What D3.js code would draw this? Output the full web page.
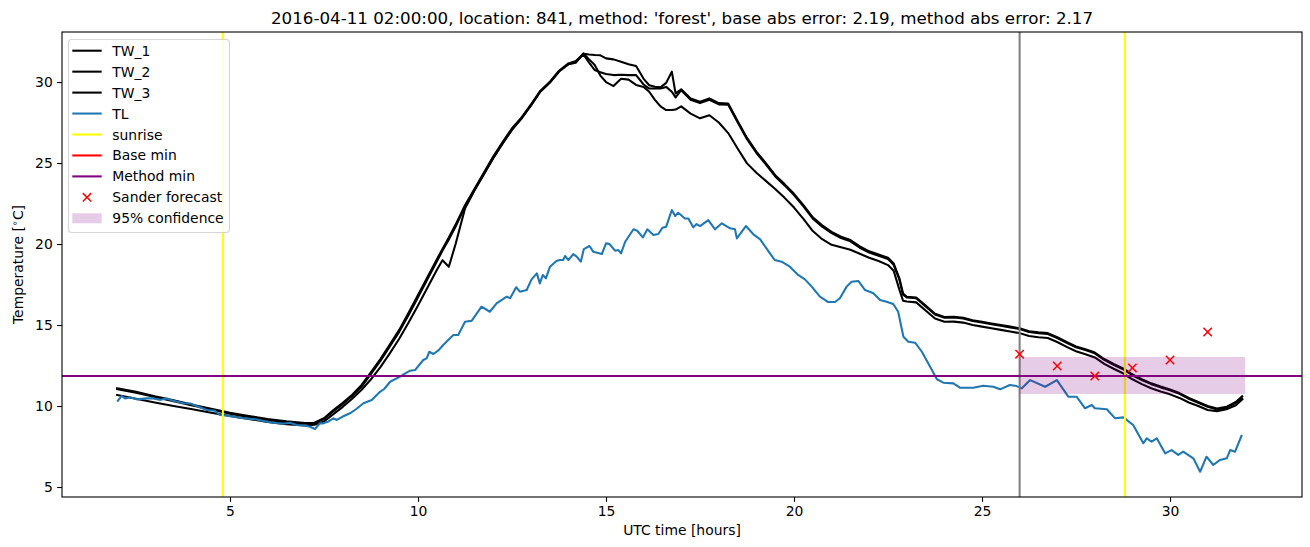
<!DOCTYPE html>
<html><head><meta charset="utf-8">
<script src="https://cdn.jsdelivr.net/npm/d3@7"></script>
<style>
body{margin:0;background:#fff}
svg{display:block}
text{font-family:"DejaVu Sans",sans-serif;fill:#000}
</style>
</head><body><svg id="c" width="1310" height="547"></svg>
<script>
const titleText = "2016-04-11 02:00:00, location: 841, method: 'forest', base abs error: 2.19, method abs error: 2.17";
const xLabel = "UTC time [hours]";
const xTicks = [5, 10, 15, 20, 25, 30];
const yTicks = [5, 10, 15, 20, 25, 30];

const twHours = [2,2.5,3,3.5,4,4.5,5,5.5,6,6.5,7,7.25,7.5,7.75,8,8.25,8.5,8.75,9,9.25,9.5,9.75,10,10.25,10.5,10.65,10.82,11,11.25,11.5,11.75,12,12.25,12.5,12.75,13,13.25,13.5,13.75,14,14.2,14.4,14.55,14.7,14.85,15,15.2,15.4,15.6,15.8,16,16.15,16.3,16.45,16.6,16.75,16.85,17,17.25,17.5,17.75,18,18.25,18.5,18.75,19,19.25,19.5,19.75,20,20.25,20.5,20.75,21,21.25,21.5,21.75,22,22.25,22.5,22.65,22.8,22.9,23,23.25,23.5,23.75,24,24.25,24.5,24.75,25,25.25,25.5,25.75,26,26.25,26.5,26.75,27,27.25,27.5,27.75,28,28.25,28.5,28.75,29,29.25,29.5,29.75,30,30.25,30.5,30.75,31,31.25,31.5,31.75,31.92];

const tw1 = [11.1,10.88,10.6,10.35,10.08,9.83,9.58,9.38,9.2,9.05,8.95,8.97,9.25,9.75,10.2,10.7,11.3,12.1,12.9,13.8,14.7,15.75,16.85,17.95,19.05,19.7,20.4,21.2,22.4,23.4,24.4,25.4,26.3,27.15,27.8,28.6,29.45,30.0,30.7,31.15,31.3,31.75,31.7,31.67,31.65,31.46,31.4,31.25,31.1,30.99,30.2,29.8,29.71,29.67,29.95,30.64,29.3,29.55,28.99,28.78,28.99,28.7,28.68,27.6,26.55,25.7,25.0,24.25,23.7,23.1,22.4,21.65,21.15,20.75,20.45,20.25,19.85,19.55,19.35,19.15,18.8,17.9,16.95,16.75,16.7,16.2,15.7,15.5,15.51,15.45,15.3,15.2,15.1,15.0,14.9,14.8,14.62,14.55,14.5,14.25,13.95,13.68,13.5,13.3,12.9,12.6,12.32,11.95,11.65,11.4,11.2,11.02,10.8,10.5,10.25,10.0,9.84,9.95,10.25,10.6];

const tw2 = [11.04,10.82,10.55,10.3,10.03,9.78,9.53,9.33,9.15,9.0,8.92,8.95,9.2,9.68,10.12,10.62,11.2,11.98,12.78,13.68,14.58,15.62,16.72,17.82,18.92,19.58,20.28,21.08,22.3,23.32,24.32,25.32,26.22,27.08,27.74,28.55,29.4,29.95,30.65,31.1,31.25,31.7,31.2,30.74,30.6,30.5,30.43,30.45,30.43,30.43,29.85,29.6,29.6,29.6,29.7,29.4,29.05,29.5,28.91,28.7,28.91,28.62,28.6,27.52,26.47,25.62,24.92,24.17,23.62,23.02,22.32,21.57,21.07,20.67,20.37,20.17,19.77,19.47,19.27,19.07,18.72,17.82,16.87,16.7,16.65,16.15,15.65,15.45,15.46,15.4,15.25,15.15,15.05,14.95,14.85,14.75,14.57,14.5,14.45,14.2,13.9,13.63,13.45,13.25,12.85,12.55,12.27,11.9,11.6,11.35,11.15,10.97,10.75,10.45,10.2,9.95,9.79,9.9,10.2,10.45];

const tw3 = [10.68,10.45,10.22,10.0,9.8,9.58,9.38,9.2,9.02,8.88,8.8,8.85,9.05,9.5,9.95,10.45,11.0,11.65,12.4,13.25,14.15,15.15,16.2,17.3,18.4,19.0,18.6,20.0,22.2,23.3,24.3,25.3,26.2,27.05,27.75,28.55,29.4,29.95,30.65,31.1,31.2,31.77,31.4,31.05,30.4,30.0,29.75,30.2,30.15,29.82,29.7,29.4,28.9,28.5,28.27,28.27,28.3,28.5,28.05,27.76,27.95,27.5,26.85,25.9,24.98,24.4,23.9,23.4,22.85,22.25,21.55,20.8,20.3,19.95,19.8,19.65,19.4,19.15,18.95,18.7,18.35,17.2,16.5,16.45,16.4,15.9,15.4,15.2,15.21,15.15,15.0,14.9,14.8,14.7,14.6,14.5,14.32,14.25,14.2,13.95,13.65,13.38,13.2,13.0,12.6,12.3,12.02,11.65,11.35,11.1,10.9,10.72,10.5,10.22,10.0,9.75,9.68,9.8,10.05,10.4];

// TL readings: [hour, temperature]
const tlReadings = [[2.0,10.27],[2.12,10.62],[2.21,10.47],[2.34,10.54],[2.52,10.41],[2.78,10.47],[2.96,10.47],[3.15,10.38],[3.32,10.47],[3.49,10.33],[3.76,10.17],[3.95,10.15],[4.11,10.0],[4.38,9.75],[4.6,9.71],[4.73,9.44],[4.9,9.42],[5.09,9.34],[5.35,9.24],[5.71,9.17],[5.95,9.05],[6.15,8.97],[6.4,8.9],[6.6,8.97],[6.77,8.83],[7.0,8.78],[7.13,8.72],[7.26,8.58],[7.39,8.93],[7.48,8.93],[7.62,9.05],[7.75,9.24],[7.84,9.14],[8.0,9.35],[8.19,9.55],[8.35,9.8],[8.55,10.17],[8.77,10.37],[8.99,10.88],[9.1,11.05],[9.26,11.5],[9.52,11.81],[9.65,12.0],[9.79,12.18],[9.92,12.22],[10.14,12.84],[10.23,12.94],[10.3,13.35],[10.41,13.21],[10.55,13.45],[10.67,13.77],[10.94,14.38],[11.07,14.38],[11.25,15.2],[11.43,15.27],[11.69,16.13],[11.91,15.82],[12.09,16.34],[12.36,16.75],[12.45,16.65],[12.61,17.33],[12.71,17.06],[12.89,17.16],[13.02,17.82],[13.16,18.19],[13.24,17.57],[13.32,18.09],[13.4,17.88],[13.51,18.6],[13.69,18.97],[13.78,19.01],[13.86,19.01],[13.91,19.26],[14.0,19.01],[14.13,19.38],[14.22,19.22],[14.33,18.91],[14.41,19.69],[14.56,19.88],[14.66,19.53],[14.89,19.38],[15.0,20.04],[15.09,20.0],[15.24,19.59],[15.33,19.63],[15.4,19.42],[15.51,20.14],[15.73,20.91],[15.83,20.82],[15.98,20.41],[16.1,20.91],[16.26,20.56],[16.39,20.62],[16.5,21.0],[16.6,21.07],[16.75,22.1],[16.84,21.73],[16.92,21.93],[17.1,21.58],[17.19,21.58],[17.32,21.03],[17.41,21.23],[17.5,21.11],[17.72,21.48],[17.9,20.91],[18.08,21.28],[18.3,20.97],[18.43,20.91],[18.48,20.35],[18.72,21.11],[18.92,20.6],[19.1,20.29],[19.36,19.42],[19.49,19.01],[19.67,18.91],[19.89,18.6],[20.11,18.09],[20.29,17.82],[20.47,17.37],[20.69,16.75],[20.91,16.42],[21.09,16.42],[21.22,16.65],[21.4,17.37],[21.53,17.67],[21.71,17.72],[21.89,17.16],[22.11,16.96],[22.29,16.54],[22.46,16.44],[22.64,16.3],[22.77,15.82],[22.91,14.28],[23.04,13.97],[23.22,13.91],[23.4,13.35],[23.62,12.43],[23.8,11.65],[23.97,11.44],[24.24,11.4],[24.41,11.13],[24.77,11.13],[25.03,11.25],[25.3,11.19],[25.48,11.03],[25.74,11.3],[25.92,11.23],[26.06,11.09],[26.28,11.6],[26.68,11.19],[26.99,11.6],[27.3,10.57],[27.52,10.57],[27.74,9.86],[27.92,10.06],[28.0,9.86],[28.32,9.8],[28.54,9.24],[28.76,9.3],[29.02,8.83],[29.29,7.7],[29.38,8.0],[29.51,7.8],[29.65,8.0],[29.87,7.08],[30.04,7.28],[30.22,6.98],[30.35,7.18],[30.62,6.77],[30.8,5.94],[30.97,6.87],[31.15,6.36],[31.33,6.67],[31.51,6.77],[31.6,7.28],[31.73,7.18],[31.91,8.21]];

const sunriseHours = [4.81, 28.8];
const forecastHour = 26;
const baseMin = 11.85;
const methodMin = 11.85;
const sanderHours = [26, 27, 28, 29, 30, 31];
const sanderTemps = [13.2, 12.47, 11.85, 12.35, 12.84, 14.57];
const confHours = [26, 32];
const confLow = [10.74, 10.74];
const confHigh = [13.02, 13.02];

const legendLabels = ["TW_1", "TW_2", "TW_3", "TL", "sunrise", "Base min", "Method min", "Sander forecast", "95% confidence"];
const legendKinds  = ["line", "line", "line", "line", "line", "line", "line", "x", "patch"];
const legendColors = ["#000000", "#000000", "#000000", "#1f77b4", "#ffff00", "#ff0000", "#800080", "#ff0000", "rgba(128,0,128,0.2)"];

// ---- layout ----
const L = 62, R = 1302, T = 32, B = 497;
const x = d3.scaleLinear().domain([0.532, 33.51]).range([L, R]);
const y = d3.scaleLinear().domain([4.383, 33.09]).range([B, T]);
const LW = 2.08;

const svg = d3.select("#c");
svg.append("defs").append("clipPath").attr("id", "clip")
  .append("rect").attr("x", L).attr("y", T).attr("width", R - L).attr("height", B - T);

const plot = svg.append("g").attr("clip-path", "url(#clip)");
const line = d3.line().x(d => x(d[0])).y(d => y(d[1]));

[tw1, tw2, tw3].forEach(s => {
  plot.append("path").datum(twHours.map((h, i) => [h, s[i]]))
    .attr("d", line).attr("fill", "none").attr("stroke", "#000")
    .attr("stroke-width", LW).attr("stroke-linejoin", "round").attr("stroke-linecap", "square");
});
plot.append("path").datum(tlReadings).attr("d", line).attr("fill", "none")
  .attr("stroke", "#1f77b4").attr("stroke-width", LW).attr("stroke-linejoin", "round");

sunriseHours.forEach(h => {
  plot.append("line").attr("x1", x(h)).attr("x2", x(h)).attr("y1", T).attr("y2", B)
    .attr("stroke", "#ffff00").attr("stroke-width", LW);
});
plot.append("line").attr("x1", x(forecastHour)).attr("x2", x(forecastHour)).attr("y1", T).attr("y2", B)
  .attr("stroke", "#808080").attr("stroke-width", LW);
plot.append("line").attr("x1", L).attr("x2", R).attr("y1", y(baseMin)).attr("y2", y(baseMin))
  .attr("stroke", "#ff0000").attr("stroke-width", LW);
plot.append("line").attr("x1", L).attr("x2", R).attr("y1", y(methodMin)).attr("y2", y(methodMin))
  .attr("stroke", "#800080").attr("stroke-width", LW);

const area = d3.area().x(d => x(d[0])).y0(d => y(d[1])).y1(d => y(d[2]));
plot.append("path").datum(confHours.map((h, i) => [h, confLow[i], confHigh[i]]))
  .attr("d", area).attr("fill", "#800080").attr("fill-opacity", 0.2);

const ms = 4.2;
sanderHours.forEach((h, i) => {
  const cx = x(h), cy = y(sanderTemps[i]);
  plot.append("path").attr("d", `M${cx-ms},${cy-ms}L${cx+ms},${cy+ms}M${cx-ms},${cy+ms}L${cx+ms},${cy-ms}`)
    .attr("stroke", "#ff0000").attr("stroke-width", 1.5).attr("fill", "none");
});

// ---- axes ----
const xAxis = d3.axisBottom(x).tickValues(xTicks).tickSize(4.86).tickPadding(4.4).tickFormat(d3.format("d"));
const yAxis = d3.axisLeft(y).tickValues(yTicks).tickSize(4.86).tickPadding(4.4).tickFormat(d3.format("d"));
const gx = svg.append("g").attr("transform", `translate(0,${B})`).call(xAxis);
const gy = svg.append("g").attr("transform", `translate(${L},0)`).call(yAxis);
[gx, gy].forEach(g => {
  g.select(".domain").remove();
  g.selectAll(".tick line").attr("stroke", "#000").attr("stroke-width", 1.1);
  g.selectAll(".tick text").attr("font-size", "13.9px").attr("fill", "#000")
    .style("font-family", "'DejaVu Sans', sans-serif");
});

svg.append("rect").attr("x", L).attr("y", T).attr("width", R - L).attr("height", B - T)
  .attr("fill", "none").attr("stroke", "#000").attr("stroke-width", 1.1);

// ---- titles ----
svg.append("text").attr("x", (L + R) / 2).attr("y", 24).attr("text-anchor", "middle")
  .attr("font-size", "16.7px").text(titleText);
svg.append("text").attr("x", (L + R) / 2).attr("y", 535).attr("text-anchor", "middle")
  .attr("font-size", "13.9px").text(xLabel);
const yl = svg.append("text").attr("transform", `translate(23,${(T + B) / 2}) rotate(-90)`)
  .attr("text-anchor", "middle").attr("font-size", "13.9px");
yl.append("tspan").text("Temperature [");
yl.append("tspan").attr("font-size", "9.7px").attr("dy", "-5").text("\u2218");
yl.append("tspan").attr("dy", "5").text("C]");

// ---- legend ----
const lg = svg.append("g");
lg.append("rect").attr("x", 68.5).attr("y", 39.5).attr("width", 161).attr("height", 193).attr("rx", 3)
  .attr("fill", "#fff").attr("fill-opacity", 0.8).attr("stroke", "#cccccc").attr("stroke-opacity", 0.8).attr("stroke-width", 1.1);
legendLabels.forEach((lab, i) => {
  const cy = 50.7 + i * 20.95;
  const k = legendKinds[i];
  if (k === "line") {
    lg.append("line").attr("x1", 72.3).attr("x2", 101.7).attr("y1", cy).attr("y2", cy)
      .attr("stroke", legendColors[i]).attr("stroke-width", LW);
  } else if (k === "x") {
    const cx = 87;
    lg.append("path").attr("d", `M${cx-ms},${cy-ms}L${cx+ms},${cy+ms}M${cx-ms},${cy+ms}L${cx+ms},${cy-ms}`)
      .attr("stroke", legendColors[i]).attr("stroke-width", 1.5);
  } else {
    lg.append("rect").attr("x", 72.3).attr("y", cy - 5).attr("width", 29.4).attr("height", 10)
      .attr("fill", legendColors[i]);
  }
  lg.append("text").attr("x", 112.3).attr("y", cy).attr("dy", "0.36em").attr("font-size", "13.9px").text(lab);
});
</script>
</body></html>
